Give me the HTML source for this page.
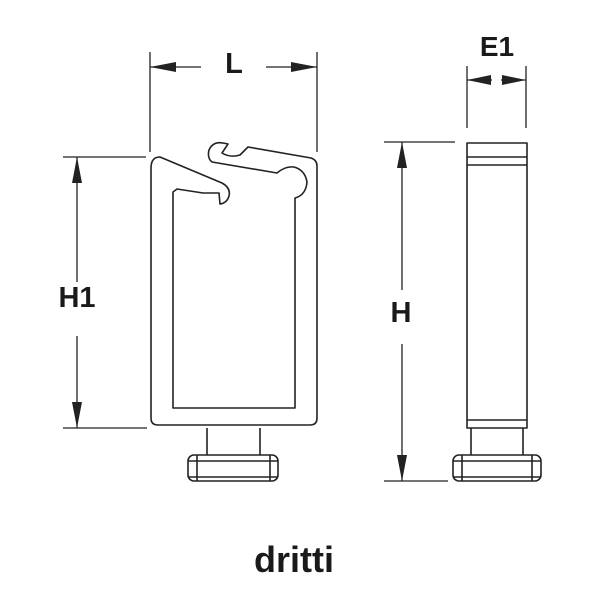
<!DOCTYPE html>
<html><head><style>html,body{margin:0;padding:0;background:#fff}svg{display:block}</style></head>
<body>
<svg width="600" height="600" viewBox="0 0 600 600" xmlns="http://www.w3.org/2000/svg">
<g fill="none" stroke="#222" stroke-width="1.6" stroke-linejoin="round">
<path d="M151,168 Q151,157 160,157 L222,183 Q231,188 229,196 Q227,203 220,204 L219,193 L203,193 L177,189 L173,192 L173,408 L295,408 L295,198 Q306,195 307,182 Q305,170 294,167 Q285,166 277,173 L212,162 Q207,158 209,150 Q213,141 223,143 L228,144 L222,153 Q230,158 240,155 L248,147 L311,158 Q317,160 317,166 L317,418 Q317,425 310,425 L158,425 Q151,425 151,418 Z"/>
<path d="M207,428 L207,455 M260,428 L260,455"/>
<rect x="188" y="455" width="90" height="26" rx="6"/>
<path d="M197,455 L197,481 M270,455 L270,481 M188,461 L278,461 M188,477 L278,477"/>
<rect x="467" y="143" width="60" height="285"/>
<path d="M467,157 L527,157 M467,165 L527,165 M467,420 L527,420 M471,428 L471,455 M523,428 L523,455"/>
<rect x="453" y="455" width="88" height="26" rx="6"/>
<path d="M462,455 L462,481 M532,455 L532,481 M453,461 L541,461 M453,477 L541,477"/>
</g>
<g stroke="#222" stroke-width="1.3" fill="none">
<path d="M150,52 L150,152 M317,52 L317,152 M150,67 L201,67 M266,67 L317,67"/>
<path d="M467,66 L467,128 M526,66 L526,128 M467,80 L492,80 M501,80 L526,80"/>
<path d="M63,157 L146,157 M63,428 L147,428 M77,157 L77,282 M77,336 L77,428"/>
<path d="M384,142 L455,142 M384,481 L448,481 M402,142 L402,290 M402,344 L402,481"/>
</g>
<g fill="#222">
<path d="M150,67 L176,62 L176,72 Z M317,67 L291,62 L291,72 Z"/>
<path d="M467,80 L491,75 L491,85 Z M526,80 L502,75 L502,85 Z"/>
<path d="M77,157 L72,183 L82,183 Z M77,428 L72,402 L82,402 Z"/>
<path d="M402,142 L397,168 L407,168 Z M402,481 L397,455 L407,455 Z"/>
</g>
<g font-family="Liberation Sans, sans-serif" font-weight="bold" fill="#1a1a1a" text-anchor="middle">
<text x="234" y="73" font-size="29">L</text>
<text x="497" y="56" font-size="28">E1</text>
<text x="77" y="307" font-size="29">H1</text>
<text x="401" y="322" font-size="29">H</text>
<text x="294" y="572" font-size="36">dritti</text>
</g>
</svg>
</body></html>
